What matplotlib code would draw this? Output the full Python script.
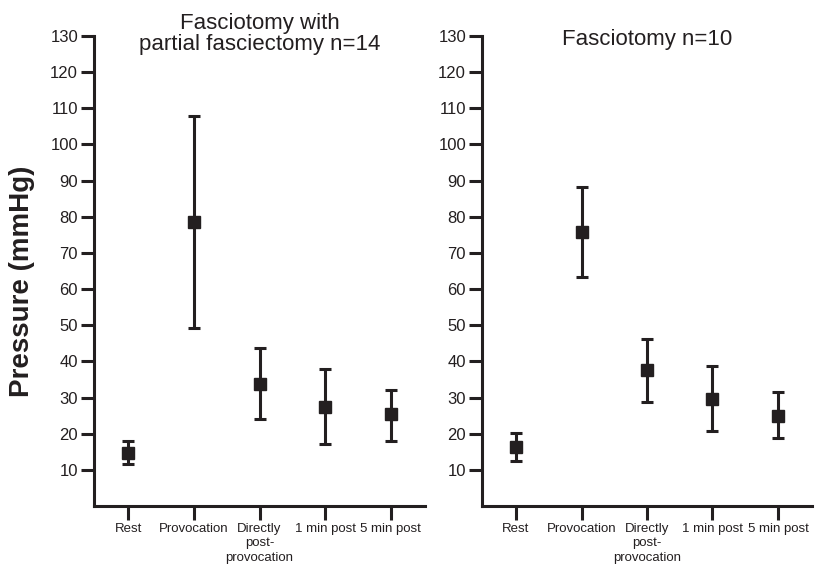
import matplotlib.pyplot as plt

plt.rcParams['font.family'] = ['Liberation Sans', 'DejaVu Sans']

categories = ['Rest', 'Provocation', 'Directly\npost-\nprovocation', '1 min post', '5 min post']

# panel 1: fasciotomy with partial fasciectomy
p1_mean = [14.7, 78.5, 33.8, 27.5, 25.4]
p1_low = [11.5, 49.2, 24.0, 17.2, 18.0]
p1_high = [18.1, 108.0, 43.6, 37.9, 32.2]

# panel 2: fasciotomy
p2_mean = [16.4, 75.7, 37.5, 29.6, 25.0]
p2_low = [12.4, 63.3, 28.8, 20.8, 18.7]
p2_high = [20.1, 88.2, 46.1, 38.7, 31.4]

titles = ['Fasciotomy with\npartial fasciectomy n=14', 'Fasciotomy n=10']
yticks = list(range(10, 140, 10))

ink = '#231f20'
fig = plt.figure(figsize=(8.19, 5.68), dpi=100)
ax1 = fig.add_axes([0.1148, 0.1092, 0.4042, 0.8274])
ax2 = fig.add_axes([0.5885, 0.1092, 0.4030, 0.8274])

panels = [(ax1, p1_mean, p1_low, p1_high), (ax2, p2_mean, p2_low, p2_high)]
for i, (ax, m, lo, hi) in enumerate(panels):
    x = list(range(len(categories)))
    err = [[a - b for a, b in zip(m, lo)], [b - a for a, b in zip(m, hi)]]
    ax.errorbar(x, m, yerr=err, fmt='s', color=ink, ms=8, elinewidth=2.2,
                capsize=4.5, capthick=2.2)
    ax.set_xlim(-0.52, 4.52)
    ax.set_ylim(0, 130)
    ax.set_yticks(yticks)
    ax.set_xticks(x)
    ax.set_xticklabels(categories, fontsize=9.5, linespacing=1.3)
    for s in ['top', 'right']:
        ax.spines[s].set_visible(False)
    for s in ['left', 'bottom']:
        ax.spines[s].set_linewidth(2.2)
        ax.spines[s].set_color(ink)
    ax.tick_params(axis='y', direction='out', length=9.5, width=2.2, color=ink,
                   labelsize=12, pad=2, labelcolor=ink)
    ax.tick_params(axis='x', direction='out', length=10, width=2.2, color=ink,
                   pad=2, labelcolor=ink)
    ax.text(0.5, 0.981 if i == 1 else 0.970, titles[i], transform=ax.transAxes,
            ha='center', va='baseline', fontsize=16, color=ink, linespacing=1.0)

# y label, placed in figure coords
fig.text(22 / 819, 1 - 281 / 568, 'Pressure (mmHg)', rotation=90, ha='center', va='center',
         fontsize=20, fontweight='bold', color=ink)

fig.savefig('out.png', dpi=100)
